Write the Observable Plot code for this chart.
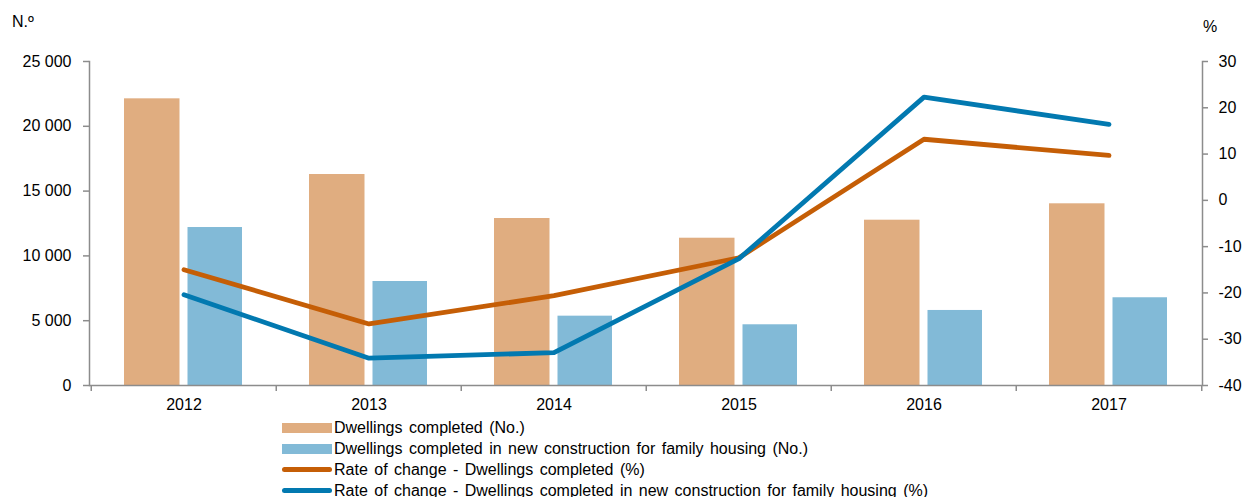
<!DOCTYPE html>
<html>
<head>
<meta charset="utf-8">
<script src="https://cdn.jsdelivr.net/npm/d3@7"></script>
<script src="https://cdn.jsdelivr.net/npm/@observablehq/plot@0.6"></script>
<style>
  html, body { margin: 0; padding: 0; background: #fff; }
  body { font-family: "Liberation Sans", Arial, sans-serif; color: #000; }
  #wrap { position: relative; width: 1243px; height: 497px; }
  .unit { position: absolute; font-size: 16px; line-height: 16px; }
  #legend { position: absolute; left: 282px; top: 417px; font-size: 16px; word-spacing: 2px; }
  .row { display: flex; align-items: center; height: 21px; white-space: nowrap; }
  .sw { width: 50px; margin-right: 2px; }
  .bar { height: 10px; }
  .ln { height: 5px; border-radius: 3px; }
</style>
</head>
<body>
<div id="wrap">
  <div id="chart"></div>
  <div class="unit" style="left:12px; top:14px;">N.º</div>
  <div class="unit" style="left:1203px; top:19px;">%</div>
  <div id="legend"></div>
</div>
<script>
const years = ["2012", "2013", "2014", "2015", "2016", "2017"];
const dwellingsCompleted = [22120, 16280, 12885, 11365, 12755, 14020];
const familyHousing = [12190, 8025, 5350, 4685, 5790, 6770];
const rateDwellings = [-15.0, -26.7, -20.6, -12.4, 13.2, 9.7];
const rateFamily = [-20.4, -34.1, -32.9, -12.6, 22.3, 16.4];
const leftTicks = [0, 5000, 10000, 15000, 20000, 25000];
const rightTicks = [-40, -30, -20, -10, 0, 10, 20, 30];
const seriesNames = [
  "Dwellings completed (No.)",
  "Dwellings completed in new construction for family housing (No.)",
  "Rate of change - Dwellings completed (%)",
  "Rate of change - Dwellings completed in new construction for family housing (%)"
];
const colors = ["#E0AD80", "#82BAD7", "#C55E06", "#0279B0"];

const leftMax = 25000, rMin = -40, rMax = 30;
const toLeft = p => (p - rMin) / (rMax - rMin) * leftMax;
const fromLeft = v => Math.round(v / leftMax * (rMax - rMin) + rMin);

const W = 1243, H = 416, mL = 89, mR = 41, mT = 61, mB = 31;
const half = (W - mL - mR) / years.length / 2;

const barsA = years.map((y, i) => ({year: y, value: dwellingsCompleted[i]}));
const barsB = years.map((y, i) => ({year: y, value: familyHousing[i]}));
const lineA = years.map((y, i) => ({year: y, value: rateDwellings[i]}));
const lineB = years.map((y, i) => ({year: y, value: rateFamily[i]}));

const fmt = d => d3.format(",")(d).replace(/,/g, " ");
const axisColor = "#8c8c8c";

const chart = Plot.plot({
  width: W, height: H,
  marginLeft: mL, marginRight: mR, marginTop: mT, marginBottom: mB,
  x: {domain: years, padding: 0},
  y: {domain: [0, leftMax]},
  style: {fontFamily: "'Liberation Sans', Arial, sans-serif", fontSize: "16px", color: "#000", background: "#fff"},
  marks: [
    Plot.barY(barsA, {x: "year", y: "value", fill: colors[0], insetLeft: 33, insetRight: 96.5}),
    Plot.barY(barsB, {x: "year", y: "value", fill: colors[1], insetLeft: 96.5, insetRight: 34}),
    Plot.ruleY([0], {stroke: axisColor, strokeWidth: 1.5}),
    Plot.frame({anchor: "left", stroke: axisColor, strokeWidth: 1.5}),
    Plot.frame({anchor: "right", stroke: axisColor, strokeWidth: 1.5}),
    Plot.axisY(leftTicks, {anchor: "left", tickSize: 6, tickPadding: 12, tickFormat: fmt, stroke: axisColor, strokeWidth: 1.5, fill: "#000", label: null}),
    Plot.axisY(rightTicks.map(toLeft), {anchor: "right", tickSize: 5, tickPadding: 11, tickFormat: v => String(fromLeft(v)), stroke: axisColor, strokeWidth: 1.5, fill: "#000", label: null}),
    Plot.axisX(years, {anchor: "bottom", tickSize: 6, dx: -half, tickFormat: () => "", stroke: axisColor, strokeWidth: 1.5, label: null}),
    Plot.axisX(years.slice(-1), {anchor: "bottom", tickSize: 6, dx: half, tickFormat: () => "", stroke: axisColor, strokeWidth: 1.5, label: null}),
    Plot.axisX(years, {anchor: "bottom", tickSize: 0, tickPadding: 13, fill: "#000", label: null}),
    Plot.line(lineA, {x: "year", y: d => toLeft(d.value), stroke: colors[2], strokeWidth: 4.8, strokeLinecap: "round", strokeLinejoin: "round"}),
    Plot.line(lineB, {x: "year", y: d => toLeft(d.value), stroke: colors[3], strokeWidth: 4.8, strokeLinecap: "round", strokeLinejoin: "round"})
  ]
});
document.getElementById("chart").appendChild(chart);

const legend = document.getElementById("legend");
seriesNames.forEach((name, i) => {
  const row = document.createElement("div");
  row.className = "row";
  const sw = document.createElement("div");
  sw.className = "sw " + (i < 2 ? "bar" : "ln");
  sw.style.background = colors[i];
  const t = document.createElement("span");
  t.textContent = name;
  row.appendChild(sw);
  row.appendChild(t);
  legend.appendChild(row);
});
</script>
</body>
</html>
